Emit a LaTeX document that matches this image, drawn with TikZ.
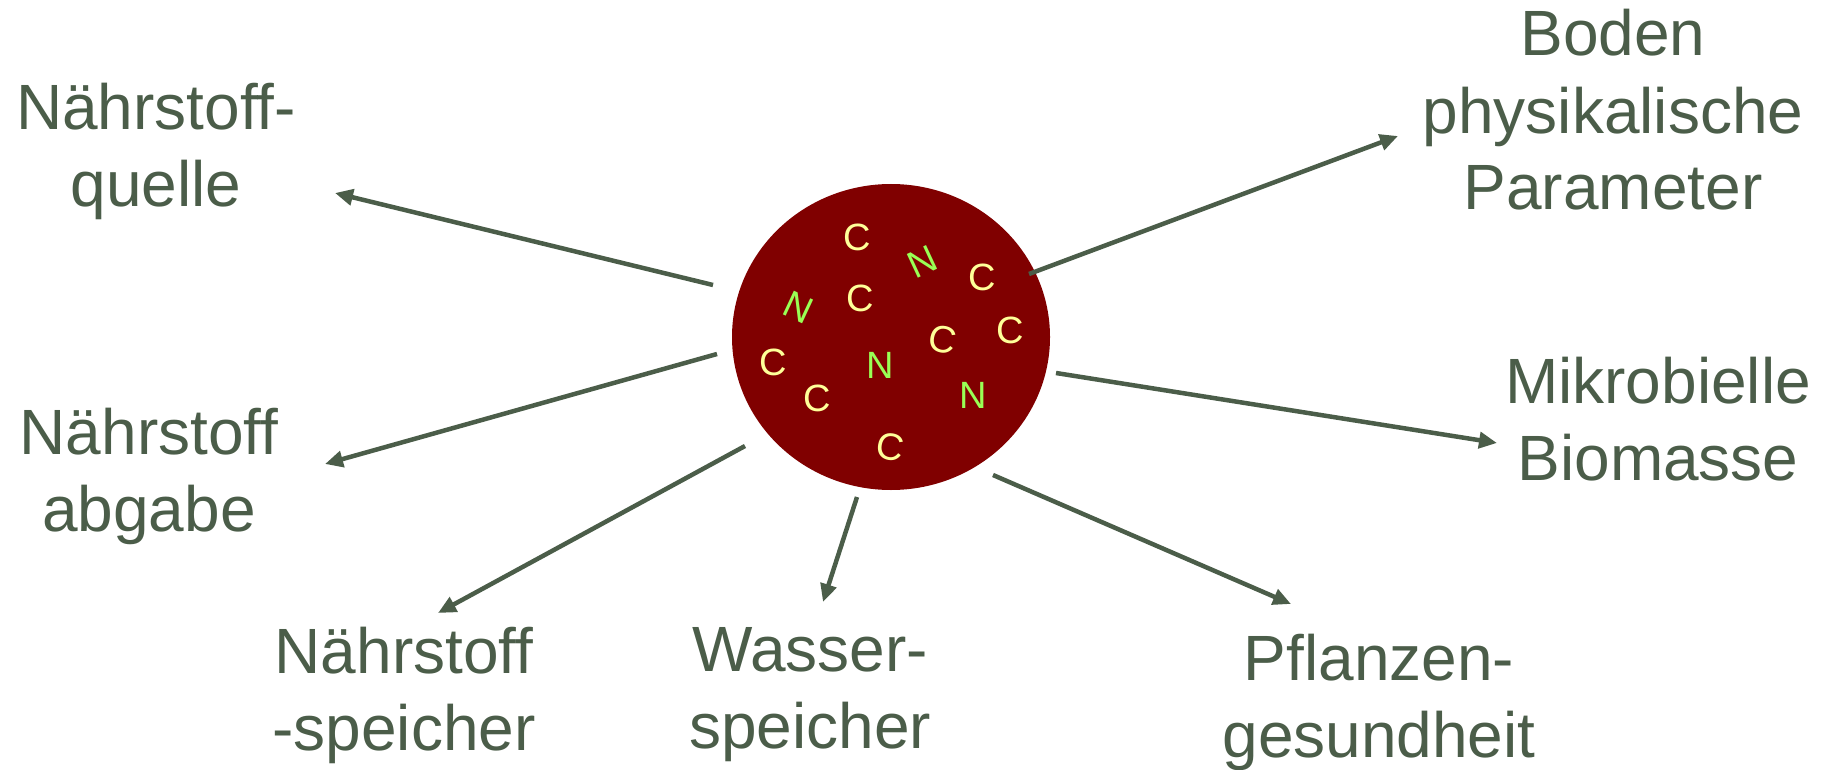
\documentclass[tikz,border=0pt]{standalone}
\usepackage{fontspec}
\setmainfont{Liberation Sans}
\usetikzlibrary{arrows.meta,shapes.geometric}
\definecolor{txt}{HTML}{4B5D49}
\definecolor{soil}{HTML}{800000}
\definecolor{cyel}{HTML}{FFFF99}
\definecolor{ngrn}{HTML}{99FF55}
\tikzset{
  lbl/.style={text=txt, align=center, inner sep=0pt, anchor=base, font=\fontsize{64}{77}\selectfont},
  cl/.style={text=cyel, inner sep=0pt, font=\fontsize{38}{38}\selectfont},
  nl/.style={text=ngrn, inner sep=0pt, font=\fontsize{38}{38}\selectfont},
  conn/.style={draw=txt, line width=4.5pt, -{Triangle[length=18pt,width=16pt]}}
}
\begin{document}
\begin{tikzpicture}[x=1pt,y=-1pt]
\useasboundingbox (0,0) rectangle (1833,770);
\node[ellipse, fill=soil, minimum width=318pt, minimum height=306pt, inner sep=0pt] (core) at (891,337) {};
% letters
\node[cl] (c1) at (857,237) {C};
\node[nl, rotate=25] (n1) at (922,262) {N};
\node[cl] (c2) at (982,277) {C};
\node[nl, rotate=-25] (n2) at (798,307) {N};
\node[cl] (c3) at (860,298) {C};
\node[cl] (c4) at (1010,330) {C};
\node[cl, rotate=-12] (c5) at (943,340) {C};
\node[cl] (c6) at (773,362) {C};
\node[nl] (n3) at (880,365) {N};
\node[cl] (c7) at (817,398) {C};
\node[nl] (n4) at (973,395) {N};
\node[cl, rotate=-10] (c8) at (890,447) {C};
% labels (anchor = baseline of last line)
\node[lbl] (quelle) at (156,207) {Nährstoff-\\quelle};
\node[lbl] (abgabe) at (149,531) {Nährstoff\\abgabe};
\node[lbl] (nspeicher) at (404,750) {Nährstoff\\-speicher};
\node[lbl] (wspeicher) at (810,748) {Wasser-\\speicher};
\node[lbl] (pflanzen) at (1379,757) {Pflanzen-\\gesundheit};
\node[lbl] (mikro) at (1658,480) {Mikrobielle\\Biomasse};
\node[lbl] (boden) at (1613,210) {Boden\\physikalische\\Parameter};
% arrow ends
\coordinate (s1) at (713,285); \coordinate (t1) at (335,193);
\coordinate (s2) at (717,354); \coordinate (t2) at (325,464);
\coordinate (s3) at (745,446); \coordinate (t3) at (438,613);
\coordinate (s4) at (857,497); \coordinate (t4) at (823,602);
\coordinate (s5) at (993,475); \coordinate (t5) at (1291,604);
\coordinate (s6) at (1056,373); \coordinate (t6) at (1497,443);
\coordinate (s7) at (1029,274); \coordinate (t7) at (1398,136);
\draw[conn] (s1) -- (t1);
\draw[conn] (s2) -- (t2);
\draw[conn] (s3) -- (t3);
\draw[conn] (s4) -- (t4);
\draw[conn] (s5) -- (t5);
\draw[conn] (s6) -- (t6);
\draw[conn] (s7) -- (t7);
\end{tikzpicture}
\end{document}
